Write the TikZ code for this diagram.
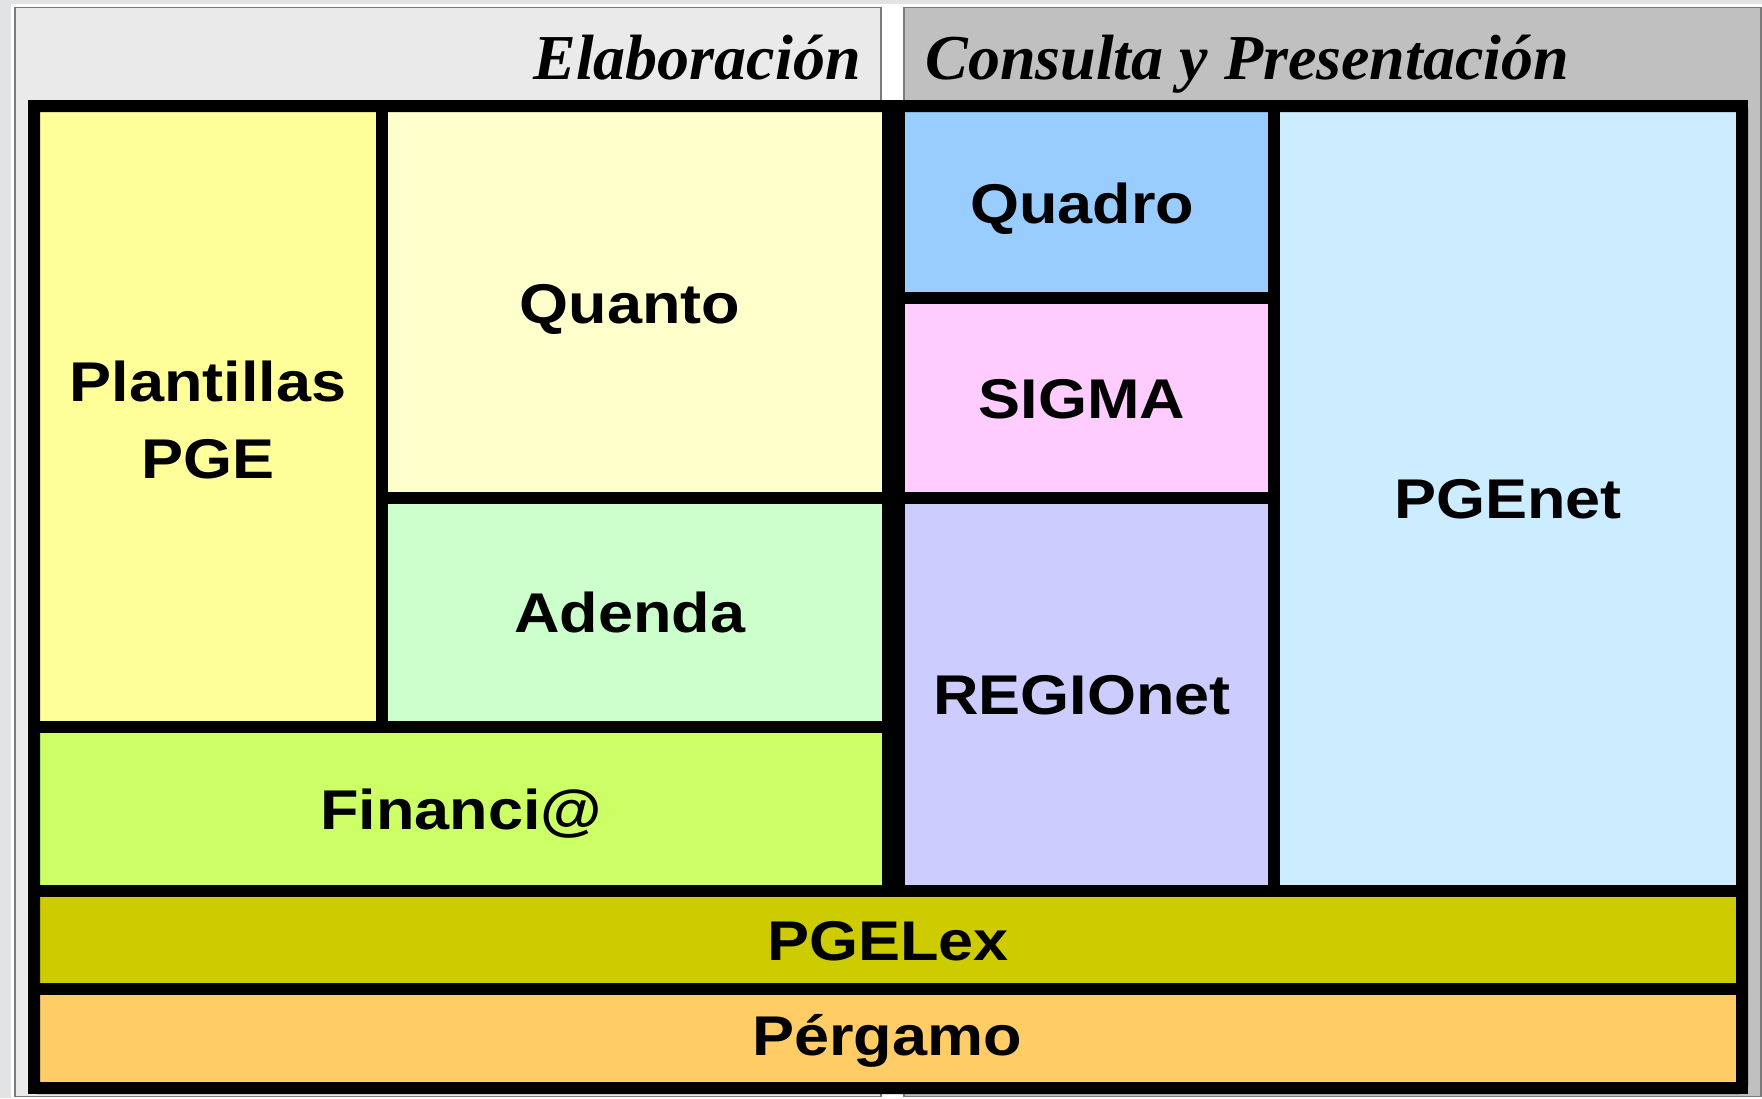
\documentclass[tikz,border=0pt]{standalone}
\usepackage{graphicx}
\usepackage{fontspec}
\setmainfont{Liberation Sans}
\newfontfamily\hdrfont{Liberation Serif}
\newcommand{\widetext}[1]{\scalebox{1.125}[1]{#1}}
\definecolor{bgout}{HTML}{E1E3E5}
\definecolor{hdrL}{HTML}{EAEAEA}
\definecolor{hdrR}{HTML}{C0C0C0}
\definecolor{panelline}{HTML}{7A7A7A}
\definecolor{cPlant}{HTML}{FFFF99}
\definecolor{cQuanto}{HTML}{FFFFCC}
\definecolor{cAdenda}{HTML}{CCFFCC}
\definecolor{cFin}{HTML}{CCFF66}
\definecolor{cQuadro}{HTML}{99CCFF}
\definecolor{cSigma}{HTML}{FFCCFF}
\definecolor{cRegio}{HTML}{CCCCFF}
\definecolor{cPgenet}{HTML}{CCECFF}
\definecolor{cPgelex}{HTML}{CCCC00}
\definecolor{cPergamo}{HTML}{FFCC66}
\begin{document}
\begin{tikzpicture}[x=0.5pt,y=-0.5pt,
  cell/.style={draw=black, line width=6pt},
  panel/.style={draw=panelline, line width=0.8pt},
  lbl/.style={font=\bfseries\fontsize{28}{38.5}\selectfont, align=center, inner sep=0pt, anchor=base},
  hdr/.style={font=\hdrfont\bfseries\itshape\fontsize{32}{38}\selectfont, inner sep=0pt}]
\useasboundingbox (0,0) rectangle (1762,1098);
% background
\fill[bgout] (0,0) rectangle (1762,1098);
\fill[white] (11,4) rectangle (1762,1098);
% header panels
\draw[panel, fill=hdrL] (15,7.5) rectangle (881,1096.5);
\draw[panel, fill=hdrR] (904,7.5) rectangle (1761,1096.5);
\node[hdr, anchor=base east] (elab) at (861,79) {Elaboración};
\node[hdr, anchor=base west] (cons) at (925,79) {Consulta y Presentación};
% cells
\draw[cell, fill=cPlant]   (34,106)   rectangle (382,727);
\draw[cell, fill=cQuanto]  (382,106)  rectangle (893,498);
\draw[cell, fill=cAdenda]  (382,498)  rectangle (893,727);
\draw[cell, fill=cFin]     (34,727)   rectangle (893,891);
\draw[cell, fill=cQuadro]  (893,106)  rectangle (1274,298);
\draw[cell, fill=cSigma]   (893,298)  rectangle (1274,498);
\draw[cell, fill=cRegio]   (893,498)  rectangle (1274,891);
\draw[cell, fill=cPgenet]  (1274,106) rectangle (1742,891);
\draw[cell, fill=cPgelex]  (34,891)   rectangle (1742,989);
\draw[cell, fill=cPergamo] (34,989)   rectangle (1742,1088);
% central divider
\fill[black] (882,100) rectangle (905,891);
% outer frame
\draw[black, line width=6pt, rounded corners=2pt] (34,106) rectangle (1742,1088);
% labels
\node[lbl] (plant)   at (208,478)  {\widetext{Plantillas}\\\widetext{PGE}};
\node[lbl] (quanto)  at (630,323)  {\widetext{Quanto}};
\node[lbl] (adenda)  at (630,632)  {\widetext{Adenda}};
\node[lbl] (fin)     at (461,829)  {\widetext{Financi@}};
\node[lbl] (quadro)  at (1082,223) {\widetext{Quadro}};
\node[lbl] (sigma)   at (1082,418) {\widetext{SIGMA}};
\node[lbl] (regio)   at (1082,714) {\widetext{REGIOnet}};
\node[lbl] (pgenet)  at (1508,518) {\widetext{PGEnet}};
\node[lbl] (pgelex)  at (888,960)  {\widetext{PGELex}};
\node[lbl] (pergamo) at (887,1055) {\widetext{Pérgamo}};
\end{tikzpicture}
\end{document}
